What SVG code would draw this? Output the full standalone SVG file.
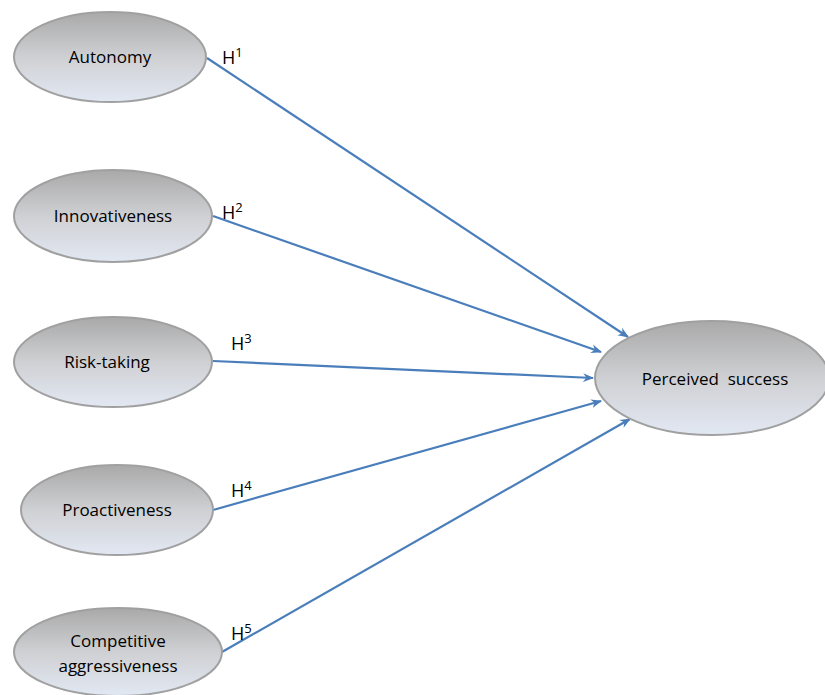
<svg xmlns="http://www.w3.org/2000/svg" width="825" height="695" viewBox="0 0 825 695">
<defs>
<linearGradient id="g" x1="0" y1="0" x2="0" y2="1">
<stop offset="0" stop-color="#a9a9a9"/>
<stop offset="0.5" stop-color="#cfd0d3"/>
<stop offset="1" stop-color="#e2e8f3"/>
</linearGradient>
<marker id="ah" viewBox="0 0 10 10" refX="9" refY="5" markerWidth="11" markerHeight="11" orient="auto" markerUnits="userSpaceOnUse">
<path d="M0,1 L10,5 L0,9 L3,5 Z" fill="#4a7ebb"/>
</marker>
<style>
.n{fill:url(#g);stroke:#a0a0a0;stroke-width:2}
.t{font-family:"Open Sans","Liberation Sans",sans-serif;font-size:17px;fill:#000;text-anchor:middle;white-space:pre}
.h{font-family:"Open Sans","Liberation Sans",sans-serif;font-size:18px;fill:#000}
.s{font-size:13px}
.c{stroke:#4a7ebb;stroke-width:2.2;fill:none;marker-end:url(#ah)}
</style>
</defs>
<rect width="825" height="695" fill="#fff"/>
<g id="connectors">
<line class="c" x1="207" y1="58" x2="628" y2="337"/>
<line class="c" x1="213" y1="216" x2="601" y2="352"/>
<line class="c" x1="213" y1="361" x2="593" y2="378"/>
<line class="c" x1="213" y1="510" x2="601" y2="401"/>
<line class="c" x1="222" y1="652" x2="630" y2="419"/>
<text class="h" x="222" y="64">H<tspan class="s" dy="-7">1</tspan></text>
<text class="h" x="222" y="219">H<tspan class="s" dy="-7">2</tspan></text>
<text class="h" x="231" y="350">H<tspan class="s" dy="-7">3</tspan></text>
<text class="h" x="231" y="497">H<tspan class="s" dy="-7">4</tspan></text>
<text class="h" x="231" y="640">H<tspan class="s" dy="-7">5</tspan></text>
</g>
<g id="autonomy">
<ellipse class="n" cx="110" cy="57" rx="96" ry="45"/>
<text class="t" x="110" y="63">Autonomy</text>
</g>
<g id="innovativeness">
<ellipse class="n" cx="113" cy="216" rx="99" ry="46"/>
<text class="t" x="113" y="222">Innovativeness</text>
</g>
<g id="risk-taking">
<ellipse class="n" cx="113" cy="362" rx="99" ry="45"/>
<text class="t" x="107" y="368">Risk-taking</text>
</g>
<g id="proactiveness">
<ellipse class="n" cx="117" cy="510" rx="96" ry="45"/>
<text class="t" x="117" y="516">Proactiveness</text>
</g>
<g id="competitive-aggressiveness">
<ellipse class="n" cx="118" cy="652" rx="104" ry="44"/>
<text class="t" x="118" y="647">Competitive</text>
<text class="t" x="118" y="672">aggressiveness</text>
</g>
<g id="perceived-success">
<ellipse class="n" cx="712" cy="378" rx="117" ry="57"/>
<text class="t" x="715" y="385">Perceived  success</text>
</g>
</svg>
